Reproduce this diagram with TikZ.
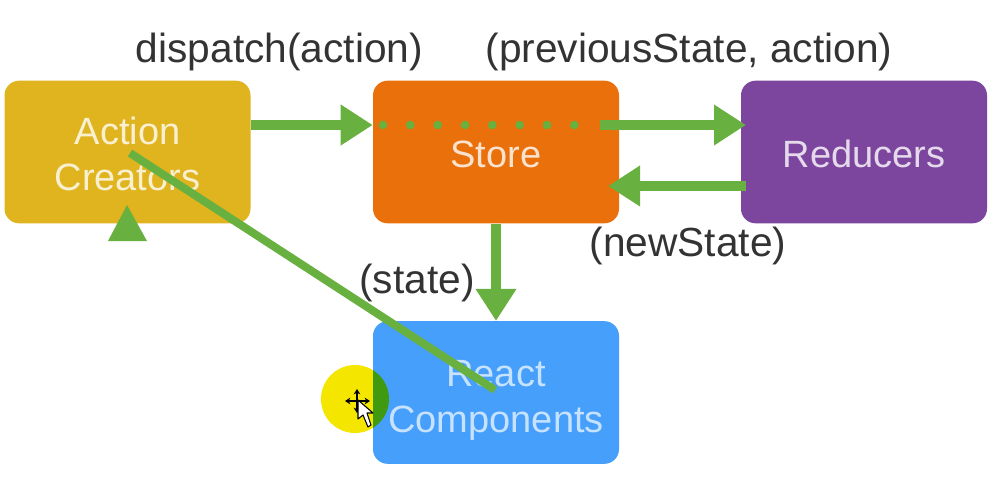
\documentclass[tikz,border=0pt]{standalone}
\usepackage{fontspec}
\setmainfont{Liberation Sans}
\usetikzlibrary{arrows.meta}
\definecolor{flowgreen}{HTML}{68B040}
\definecolor{boxyellow}{HTML}{E0B41E}
\definecolor{boxorange}{HTML}{E9700A}
\definecolor{boxpurple}{HTML}{7D469E}
\definecolor{boxblue}{HTML}{459FFB}
\definecolor{haloyellow}{HTML}{F5E600}
\definecolor{halogreen}{HTML}{3F9A0F}
\newcommand{\toppad}[1]{\rule{0pt}{#1pt}}
\tikzset{
  box/.style={draw=none,rounded corners=11pt,minimum width=184.5pt,minimum height=107pt,inner sep=0pt,align=center,font=\fontsize{28.5}{34.5}\selectfont,text=#1},
  box/.default=white,
  lbl/.style={inner sep=0pt,anchor=base,text=black!80,font=\fontsize{30.5}{36}\selectfont},
  flow/.style={draw=flowgreen,line width=7.5pt,-{Triangle[length=24pt,width=29pt]}},
  plainflow/.style={draw=flowgreen,line width=6pt},
  dotflow/.style={draw=flowgreen,line width=6.5pt,line cap=round,dash pattern=on 0pt off 20.5pt}
}
\begin{document}
\begin{tikzpicture}[x=0.75pt,y=-0.75pt]
\useasboundingbox (0,0) rectangle (996,483);
\fill[white] (0,0) rectangle (996,483);
\fill[haloyellow] (355,399) circle (34);
\node[box={white!80!boxyellow},fill=boxyellow] (ac) at (127.5,152) {\toppad{23}Action\\Creators};
\node[box={white!80!boxorange},fill=boxorange] (st) at (496,152) {\toppad{24}Store};
\node[box={white!80!boxpurple},fill=boxpurple] (re) at (864,152) {\toppad{24}Reducers};
\node[box={white!70!boxblue},fill=boxblue] (rc) at (496,392.5) {\toppad{31}React\\Components};
\begin{scope}
  \clip (373,321) rectangle (619,464);
  \fill[halogreen] (355,399) circle (34);
\end{scope}
\node[lbl] (l1) at (279.5,62) {dispatch(action)};
\node[lbl] (l2) at (689,62) {(previousState, action)};
\node[lbl] (l3) at (688,256) {(newState)};
\node[lbl] (l4) at (417,293) {(state)};
% connectors
\coordinate (a1) at (ac.east |- 0,125);
\coordinate (a2) at (st.west |- 0,125);
\draw[flow] (a1) -- (a2);
\coordinate (d1) at (383,125);
\coordinate (d2) at (578,125);
\draw[dotflow] (d1) -- (d2);
\coordinate (b1) at (600,125);
\coordinate (b2) at (746,125);
\draw[flow] (b1) -- (b2);
\coordinate (c1) at (746,186);
\coordinate (c2) at (608,186);
\draw[flow] (c1) -- (c2);
\draw[flow] (st.south) -- (rc.north);
\coordinate (e1) at (130,153);
\coordinate (e2) at (495,390);
\draw[plainflow] (e1) -- (e2);
% partial arrow head under Action Creators
\coordinate (t1) at (127,205);
\coordinate (t2) at (147,241);
\coordinate (t3) at (108,241);
\fill[flowgreen] (t1) -- (t2) -- (t3) -- cycle;
% mouse cursor
\draw[black,line width=1.5pt,<->,>={Stealth[length=4pt,width=5pt]}] (345,401) -- (370,401);
\draw[black,line width=1.5pt,<->,>={Stealth[length=4pt,width=5pt]}] (357,389) -- (357,413);
\draw[black,fill=white,line width=0.8pt,line join=round] (358,400) -- (358,419) -- (363,415) -- (368,427) -- (371,425) -- (367,413) -- (373,413) -- cycle;
\end{tikzpicture}
\end{document}
